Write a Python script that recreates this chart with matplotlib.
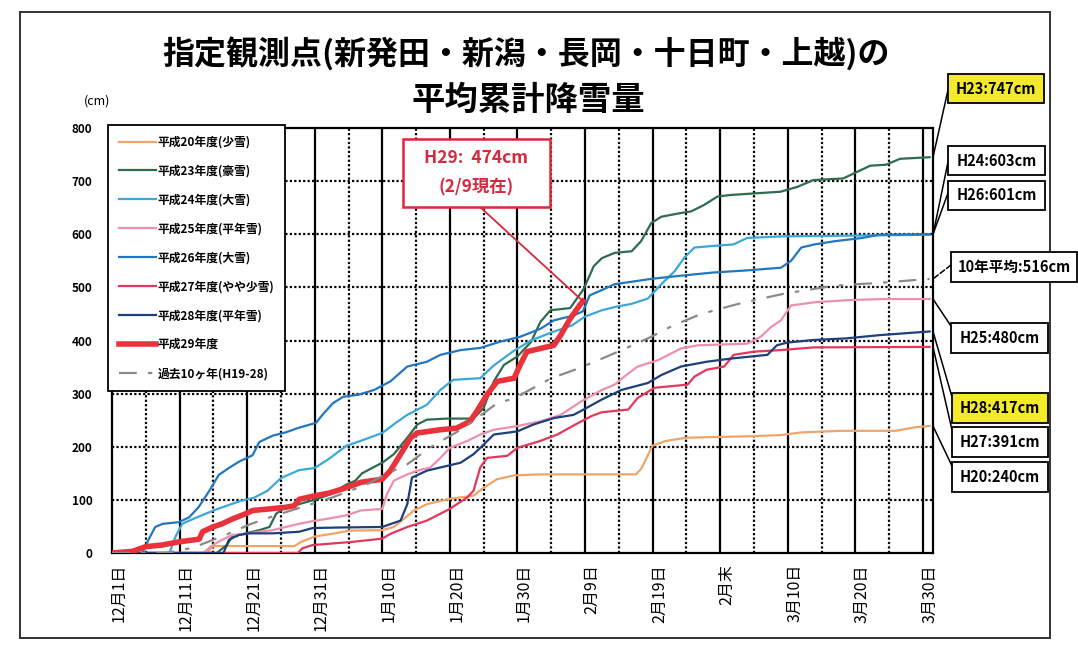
import matplotlib
matplotlib.use("Agg")
import matplotlib.pyplot as plt
from matplotlib.patches import Rectangle
from matplotlib.lines import Line2D

plt.rcParams['font.family'] = ['Noto Sans CJK JP', 'DejaVu Sans']

W, H = 1078, 645

# x = days since Dec 1, y = cumulative snowfall (cm)
tick_labels = ['12月1日', '12月11日', '12月21日', '12月31日', '1月10日', '1月20日', '1月30日',
               '2月9日', '2月19日', '2月末', '3月10日', '3月20日', '3月30日']

h20_d = [0, 14, 15, 27, 28, 30, 33, 35, 40, 41.7, 44.7, 46.6, 50, 53.5, 55, 57, 59.5, 63.4,
         72, 77.5, 78.3, 80, 82, 85, 95, 99, 102, 108, 116, 119, 121]
h20_v = [0, 0, 13, 13, 21, 31, 37, 42, 43, 49, 80, 92, 102, 108, 123, 139, 146, 148,
         148, 148, 158, 202, 211, 217, 220, 222, 227, 230, 230, 237, 239]

h23_d = [0, 15.5, 17, 17.8, 19.8, 21.8, 23.3, 24.3, 25.7, 27.7, 30.2, 32.2, 34.7, 36, 37, 40,
         41.7, 43.7, 45.2, 46.6, 49.6, 53.5, 55, 56.5, 58, 60, 62, 63.4, 64.9, 67.8, 69.8,
         71.3, 72.5, 74.4, 76.9, 78.3, 79.8, 81.3, 84.2, 85.7, 87.6, 89.6, 91.6, 98.9, 101.4,
         103.8, 108.2, 110.2, 112.2, 114.6, 116.6, 121]
h23_v = [0, 0, 15, 31, 37, 43, 49, 74, 86, 92, 101, 110, 129, 136, 150, 170,
         186, 217, 242, 251, 253, 253, 273, 323, 354, 370, 397, 435, 457, 461, 497,
         540, 555, 565, 568, 587, 621, 633, 640, 643, 655, 671, 674, 680, 689,
         702, 705, 717, 729, 731, 742, 745]

h24_d = [0, 8.5, 9.4, 10.4, 12, 15, 19, 21, 23, 25, 27.7, 30, 32.2, 34.7, 36.8, 40, 42, 43.7,
         46.6, 48.6, 50.5, 54.5, 56.4, 59.4, 62, 65, 68, 70, 72.5, 74.4, 76.9, 79.3, 81.3,
         83.3, 84.7, 86.2, 89, 92, 94, 99, 121]
h24_v = [0, 0, 31, 55, 64, 80, 98, 104, 117, 141, 156, 160, 178, 202, 211, 226, 245, 260,
         279, 307, 326, 329, 352, 380, 400, 415, 428, 445, 457, 463, 469, 479, 506,
         531, 556, 575, 578, 581, 593, 596, 599]

h25_d = [0, 13.5, 14.9, 16.3, 17.8, 19.8, 21.8, 23.8, 25.7, 27.7, 29.7, 31.7, 34.7, 36.8, 40,
         40.7, 41.7, 43.7, 45.2, 47.1, 48.6, 50, 52.6, 54.5, 56.5, 60, 63.4, 66.4, 69.4, 72.5,
         74.4, 75.8, 77.8, 80.8, 84.2, 86.7, 94, 96, 97.5, 99, 100.5, 104, 109, 114, 121]
h25_v = [0, 0, 15, 25, 34, 36, 40, 43, 49, 55, 60, 64, 71, 80, 83,
         111, 136, 148, 155, 161, 179, 198, 211, 223, 232, 239, 248, 260, 285, 307,
         317, 332, 351, 363, 385, 391, 394, 407, 425, 438, 466, 472, 476, 478, 478]

h26_d = [0, 4.5, 5.4, 6.4, 7.5, 9.9, 11.4, 12.8, 14.4, 15.8, 17.3, 18.8, 20.8, 21.8, 23.8,
         25.7, 27.7, 30.2, 31.2, 32.7, 34.2, 36.5, 38.8, 41.2, 43.7, 46.6, 48.6, 51.6, 54.5,
         57.5, 60.4, 63.4, 65.4, 68.3, 69.7, 70.7, 72.5, 74.4, 79.8, 84.2, 89, 94, 99, 100.5,
         102, 104, 107, 111, 113.5, 121]
h26_v = [0, 0, 25, 49, 55, 58, 67, 86, 117, 147, 160, 172, 184, 209, 221,
         227, 236, 245, 261, 282, 294, 298, 307, 323, 351, 360, 373, 382, 386,
         398, 407, 422, 438, 447, 455, 485, 495, 506, 516, 522, 528, 532, 537, 550,
         575, 581, 587, 593, 599, 600]

h27_d = [0, 27.5, 28.2, 29.7, 32.7, 35.6, 40, 41.2, 43.7, 46.6, 50, 52.6, 53.5, 54.5, 55.5,
         58.5, 60, 63.4, 65.9, 68.3, 69.5, 71, 72.5, 76.4, 77.8, 80.3, 85.2, 86.2, 88, 90.6,
         92, 95, 99, 103.8, 121]
h27_v = [0, 0, 9, 15, 18, 21, 27, 36, 49, 61, 83, 105, 117, 161, 179,
         183, 198, 211, 223, 240, 248, 258, 265, 270, 292, 311, 317, 332, 345, 351,
         373, 379, 382, 387, 388]

h28_d = [0, 16.5, 17.3, 18.8, 20.3, 23.8, 27.7, 29.7, 33.7, 40, 42.7, 43.7, 44.4, 46.6, 48.6,
         51.6, 53.5, 55, 56.5, 60, 62.4, 65.4, 68.3, 69.5, 72.5, 75.4, 79.3, 81.3, 84.2, 88,
         91.6, 97, 98.4, 99.9, 103.8, 108.7, 113.5, 121]
h28_v = [0, 0, 25, 34, 37, 37, 40, 47, 48, 49, 61, 92, 142, 155, 161,
         170, 186, 204, 223, 229, 242, 254, 260, 268, 289, 307, 320, 335, 351, 360,
         366, 373, 391, 396, 401, 404, 410, 417]

h29_d = [0, 3, 5, 7.4, 9.9, 12.9, 13.4, 14.9, 16.3, 17.8, 19.8, 20.8, 23.3, 25.7, 27, 27.7,
         29.7, 32.2, 34.7, 36.8, 40, 41.2, 42.7, 44.2, 45.2, 48.6, 51, 53, 54, 55.5, 57, 59.5,
         60.4, 61.4, 63.4, 65.4, 66.4, 67.8, 69.3, 69.7]
h29_v = [0, 3, 12, 15, 21, 26, 40, 49, 55, 64, 74, 80, 83, 86, 89, 101,
         107, 113, 123, 133, 139, 155, 186, 217, 226, 232, 235, 248, 267, 298, 323, 329,
         354, 379, 385, 391, 410, 441, 468, 474]

avg_d = [0, 8, 12, 17, 20.4, 24, 28, 32.7, 37.7, 40, 43.7, 47, 52, 57, 59.5, 65, 68.3, 71.8,
         76, 79.8, 83, 87.2, 93, 99.4, 106.8, 114.1, 121]
avg_v = [0, 0, 10, 35, 54, 70, 86, 105, 129, 145, 167, 198, 235, 282, 291, 329, 344, 362,
         385, 407, 428, 450, 470, 488, 503, 509, 516]

series = [
    ('平成20年度(少雪)', h20_d, h20_v, '#f0a468', 1.6, '-'),
    ('平成23年度(豪雪)', h23_d, h23_v, '#2f6b4f', 1.6, '-'),
    ('平成24年度(大雪)', h24_d, h24_v, '#3aa8d8', 1.6, '-'),
    ('平成25年度(平年雪)', h25_d, h25_v, '#ee8fb0', 1.6, '-'),
    ('平成26年度(大雪)', h26_d, h26_v, '#2277bf', 1.6, '-'),
    ('平成27年度(やや少雪)', h27_d, h27_v, '#e2375e', 1.6, '-'),
    ('平成28年度(平年雪)', h28_d, h28_v, '#1d3f7c', 1.6, '-'),
    ('平成29年度', h29_d, h29_v, '#e8333c', 4.0, '-'),
    ('過去10ヶ年(H19-28)', avg_d, avg_v, '#8a8a8a', 1.6, (0, (8, 5, 2, 5))),
]

end_labels = ['H23:747cm', 'H24:603cm', 'H26:601cm', '10年平均:516cm',
              'H25:480cm', 'H28:417cm', 'H27:391cm', 'H20:240cm']

fig = plt.figure(figsize=(W / 100, H / 100), dpi=100)
ax = fig.add_axes([112 / W, 1 - 553 / H, 821 / W, 425 / H])

for x in range(5, 120, 10):
    ax.axvline(x, color='black', lw=1.6, ls=(0, (1.0, 1.0)), zorder=1)
for x in range(10, 121, 10):
    ax.axvline(x, color='black', lw=1.6, zorder=1)
for y in range(100, 800, 100):
    ax.axhline(y, color='black', lw=1.6, ls=(0, (1.0, 1.0)), zorder=1)

handles = []
for label, d, v, color, lw, ls in series:
    ax.plot(d, v, color=color, lw=lw, ls=ls, zorder=3)
    handles.append(Line2D([], [], color=color, lw=lw, ls=ls, label=label))

ax.set_xlim(0, 121.5)
ax.set_ylim(0, 800)
ax.set_xticks([10 * i + 1 for i in range(len(tick_labels))])
ax.set_xticklabels(tick_labels, rotation=90, fontsize=11.5)
ax.set_yticks(range(0, 801, 100))
ax.set_yticklabels([str(v) for v in range(0, 801, 100)], fontsize=8.5, fontweight='bold')
ax.tick_params(axis='x', length=0, pad=8)
ax.tick_params(axis='y', length=0, pad=14)
for s in ax.spines.values():
    s.set_linewidth(1.6)
    s.set_color('black')

leg = ax.legend(handles=handles, loc='upper left', bbox_to_anchor=(-0.005, 1.007),
                borderaxespad=0, fancybox=False, framealpha=1, edgecolor='black',
                prop={'size': 8.5, 'weight': 'bold'}, handlelength=3.2, handletextpad=0.1,
                labelspacing=1.35, borderpad=0.9)
leg.get_frame().set_linewidth(1.3)
leg.set_zorder(5)

# title and unit
fig.text(526 / W, 1 - 55 / H, '指定観測点(新発田・新潟・長岡・十日町・上越)の',
         ha='center', va='center', fontsize=23, fontweight='bold')
fig.text(528 / W, 1 - 100 / H, '平均累計降雪量', ha='center', va='center',
         fontsize=24, fontweight='bold')
fig.text(97 / W, 1 - 101 / H, '(cm)', ha='center', va='center', fontsize=9)

# outer frame
fig.add_artist(Rectangle((20 / W, 1 - 638 / H), 1030 / W, 626 / H, transform=fig.transFigure,
                         fill=False, ec='#333333', lw=1.4))


def px_rect(x, y, w, h, fc, ec, lw):
    fig.add_artist(Rectangle((x / W, 1 - (y + h) / H), w / W, h / H,
                             transform=fig.transFigure, fc=fc, ec=ec, lw=lw, zorder=6))


# right-side end labels: box (x, y, w, h), connector target on box
boxes = [(948, 74, 96, 29), (948, 146, 97, 29), (948, 181, 97, 29), (951, 252, 126, 30),
         (951, 323, 97, 30), (952, 393, 96, 30), (952, 427, 96, 30), (952, 462, 96, 30)]
targets = [(948, 90), (948, 162), (948, 193), (951, 265),
           (951, 326), (952, 397), (952, 430), (952, 466)]
end_series = [h23_v, h24_v, h26_v, avg_v, h25_v, h28_v, h27_v, h20_v]
fills = ['#f2ea2a', 'white', 'white', 'white', 'white', '#f2ea2a', 'white', 'white']

for label, (bx, by, bw, bh), (tx, ty), vals, fc in zip(end_labels, boxes, targets, end_series, fills):
    ls = '--' if label.startswith('10') else '-'
    ax.annotate('', xy=(121.5, vals[-1]), xycoords='data', xytext=(tx, H - ty),
                textcoords='figure pixels', annotation_clip=False,
                arrowprops=dict(arrowstyle='-', color='black', lw=1.1, ls=ls,
                                shrinkA=0, shrinkB=0))
    px_rect(bx, by, bw, bh, fc, 'black', 1.3)
    fig.text((bx + bw / 2) / W, 1 - (by + bh / 2) / H, label, ha='center', va='center',
             fontsize=10.5, fontweight='bold', zorder=7)

# H29 callout
red = '#d8283f'
ax.annotate('', xy=(h29_d[-1], h29_v[-1]), xycoords='data', xytext=(480, H - 207),
            textcoords='figure pixels', annotation_clip=False,
            arrowprops=dict(arrowstyle='-', color=red, lw=1.3, shrinkA=0, shrinkB=0))
px_rect(403, 139, 147, 68, 'white', red, 1.8)
fig.text(476 / W, 1 - 158 / H, 'H29:  474cm', ha='center', va='center', color=red,
         fontsize=12.5, fontweight='bold', zorder=7)
fig.text(476 / W, 1 - 187 / H, '(2/9現在)', ha='center', va='center', color=red,
         fontsize=12.5, fontweight='bold', zorder=7)

fig.savefig('out.png', dpi=100, facecolor='white')
